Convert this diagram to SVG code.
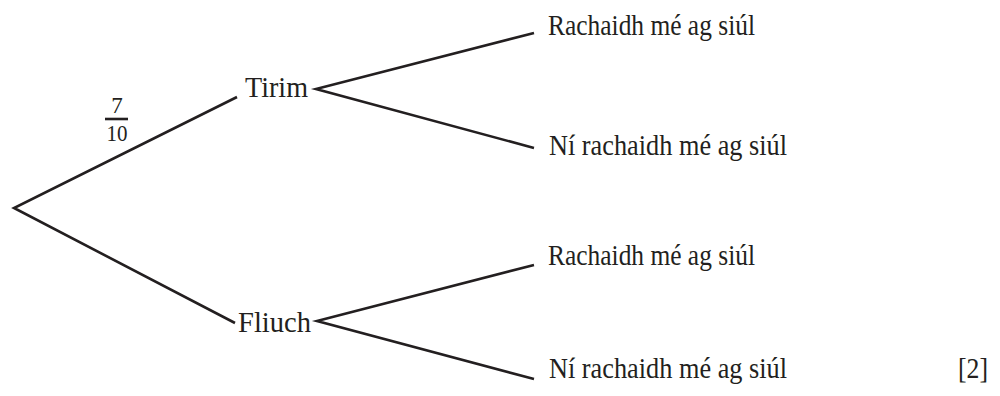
<svg xmlns="http://www.w3.org/2000/svg" width="1000" height="396" viewBox="0 0 1000 396">
<style>
text{font-family:"Liberation Serif","Times New Roman",serif;font-size:29px;fill:#231f20}
.frac{font-size:23px}
.ln{stroke:#231f20;stroke-width:2.6;fill:none;stroke-linejoin:miter}
</style>
<rect width="1000" height="396" fill="#fff"/>
<g id="connectors">
<polyline class="ln" points="237,97 14,208 235,323"/>
<polyline class="ln" points="534,33 316,89 534,148"/>
<polyline class="ln" points="534,265 317,321 534,379"/>
<line class="ln" x1="105" y1="119" x2="128" y2="119" stroke-width="1.5"/>
</g>
<g id="label-prob">
<text class="frac" x="117" y="113" text-anchor="middle">7</text>
<text class="frac" x="117" y="141" text-anchor="middle" textLength="21" lengthAdjust="spacingAndGlyphs">10</text>
</g>
<g id="node-tirim"><text x="245" y="97" textLength="63" lengthAdjust="spacingAndGlyphs">Tirim</text></g>
<g id="node-fliuch"><text x="238" y="332" textLength="73" lengthAdjust="spacingAndGlyphs">Fliuch</text></g>
<g id="node-t1"><text x="548" y="35" textLength="207" lengthAdjust="spacingAndGlyphs">Rachaidh mé ag siúl</text></g>
<g id="node-t2"><text x="549" y="155" textLength="238" lengthAdjust="spacingAndGlyphs">Ní rachaidh mé ag siúl</text></g>
<g id="node-f1"><text x="548" y="265" textLength="207" lengthAdjust="spacingAndGlyphs">Rachaidh mé ag siúl</text></g>
<g id="node-f2"><text x="549" y="378" textLength="238" lengthAdjust="spacingAndGlyphs">Ní rachaidh mé ag siúl</text></g>
<g id="marks"><text x="958" y="378" textLength="30" lengthAdjust="spacingAndGlyphs">[2]</text></g>
</svg>
